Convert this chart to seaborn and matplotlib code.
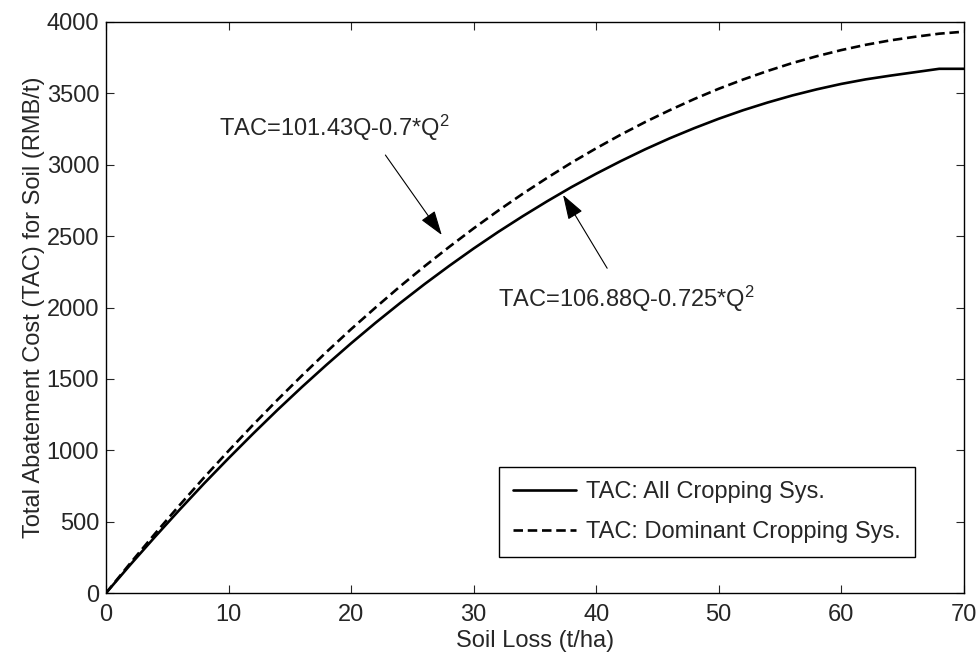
import numpy as np
import pandas as pd
import matplotlib
matplotlib.use("Agg")
import matplotlib.pyplot as plt
import seaborn as sns

# soil loss (t/ha) and total abatement cost
soil_loss = [0, 2, 4, 6, 8, 10, 12, 14, 16, 18, 20, 22, 24, 26, 28, 30, 32, 34,
             36, 38, 40, 42, 44, 46, 48, 50, 52, 54, 56, 58, 60, 62, 64, 66, 68, 70]
tac_all = [0, 200, 394, 583, 767, 944, 1116, 1283, 1444, 1599, 1749, 1893, 2031,
           2164, 2291, 2413, 2529, 2639, 2744, 2844, 2937, 3025, 3108, 3185, 3256,
           3322, 3382, 3436, 3485, 3528, 3566, 3598, 3624, 3648, 3672, 3672]
tac_dom = [0, 211, 416, 615, 809, 996, 1178, 1354, 1524, 1689, 1848, 2000, 2148,
           2289, 2424, 2554, 2678, 2796, 2908, 3015, 3115, 3210, 3299, 3382, 3460,
           3532, 3597, 3657, 3712, 3760, 3803, 3840, 3871, 3896, 3918, 3932]

labels = ["TAC: All Cropping Sys.", "TAC: Dominant Cropping Sys."]
eq_dom = "TAC=101.43Q-0.7*Q$^2$"
eq_all = "TAC=106.88Q-0.725*Q$^2$"

FS = 17

sns.set_style("ticks")
plt.rcParams["font.family"] = ["Liberation Sans", "DejaVu Sans"]
plt.rcParams["mathtext.fontset"] = "custom"
plt.rcParams["mathtext.rm"] = "Liberation Sans"
plt.rcParams["mathtext.default"] = "regular"
plt.rcParams["font.size"] = FS

fig = plt.figure(figsize=(9.79, 6.56), dpi=100)
ax = fig.add_axes([0.1083, 0.096, 0.8761, 0.8705])

df = pd.DataFrame({"Q": soil_loss * 2,
                   "TAC": tac_all + tac_dom,
                   "series": [labels[0]] * len(soil_loss) + [labels[1]] * len(soil_loss)})

sns.lineplot(data=df, x="Q", y="TAC", style="series", style_order=labels,
             dashes={labels[0]: "", labels[1]: (3.6, 1.8)},
             color="black", linewidth=1.9, ax=ax)

ax.set_xlim(0, 70)
ax.set_ylim(0, 4000)
ax.set_xticks(range(0, 71, 10))
ax.set_yticks(range(0, 4001, 500))
ax.tick_params(direction="in", length=6, width=0.8, top=True, right=True,
               labelsize=FS)
ax.tick_params(axis="x", pad=8)
ax.tick_params(axis="y", pad=5)
for s in ax.spines.values():
    s.set_linewidth(1.0)
    s.set_color("black")

ax.set_xlabel("Soil Loss (t/ha)", fontsize=FS, labelpad=3)
ax.set_ylabel("Total Abatement Cost (TAC) for Soil (RMB/t)", fontsize=FS, labelpad=1)

arrow = dict(arrowstyle="-|>,head_length=0.9,head_width=0.3", color="black",
             lw=0.8, shrinkA=0, shrinkB=0)
ax.annotate("", xy=(27.4, 2508), xytext=(22.8, 3068), arrowprops=arrow)
ax.text(9.2, 3257, eq_dom, fontsize=FS, va="center", ha="left")
ax.annotate("", xy=(37.3, 2788), xytext=(40.9, 2275), arrowprops=arrow)
ax.text(32.0, 2060, eq_all, fontsize=FS, va="center", ha="left")

leg = ax.legend(loc="lower right", bbox_to_anchor=(0.943, 0.063), fontsize=FS,
                frameon=True, fancybox=False, edgecolor="black", framealpha=1,
                handlelength=2.7, handletextpad=0.4, borderpad=0.6,
                labelspacing=0.75, borderaxespad=0)
leg.get_frame().set_linewidth(1.0)

fig.savefig("out.png", dpi=100)
